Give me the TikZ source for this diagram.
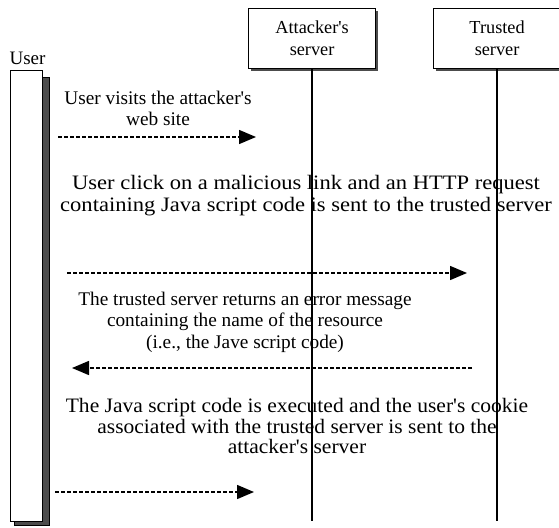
\documentclass[tikz,border=0pt]{standalone}
\usepackage{fontspec}
\usepackage{graphicx}
\setmainfont{Liberation Serif}[Ligatures=TeXOff]
\usetikzlibrary{arrows.meta}
\newcommand{\widetext}[2]{\scalebox{#1}[1]{\begin{tabular}{@{}c@{}}#2\end{tabular}}}
\tikzset{
  actorbox/.style={draw=black, line width=1.2pt, fill=white, minimum width=127pt, minimum height=60pt, align=center, inner sep=0pt,
    font=\fontsize{18.3}{22}\selectfont},
  lifeline/.style={line width=1.6pt},
  msg/.style={line width=1.5pt, dash pattern=on 4pt off 2pt, -{Triangle[length=17pt,width=14pt]}},
  msgtext/.style={align=center, inner sep=0pt},
}
\begin{document}
\begin{tikzpicture}[x=1pt,y=-1pt]
\useasboundingbox (0,0) rectangle (559,527);
% User activation bar
\fill[black!70] (14,77) rectangle (49,525);
\draw[line width=0.8pt] (14,77) rectangle (49,525);
\node[draw=black, line width=1.2pt, fill=white, minimum width=32pt, minimum height=451pt, inner sep=0pt, anchor=north west] (user) at (10,70) {};
\node[msgtext, font=\fontsize{19}{21}\selectfont, anchor=south] (userlbl) at (27.5,65) {User};
% Attacker's server
\fill[black!70] (251,11) rectangle (378,71);
\node[actorbox, anchor=north west] (att) at (248,8) {Attacker's\\server};
% Trusted server
\fill[black!70] (436,11) rectangle (563,71);
\node[actorbox, anchor=north west] (tru) at (433,8) {Trusted\\server};
% messages text
\node[msgtext, font=\fontsize{19.3}{21}\selectfont] (t1) at (158,108) {User visits the attacker's\\web site};
\node[msgtext, font=\fontsize{20.5}{22}\selectfont] (t2) at (306,196) {\widetext{1.1}{User click on a malicious link and an HTTP request\\containing Java script code is sent to the trusted server}};
\node[msgtext, font=\fontsize{19.3}{21.5}\selectfont] (t3) at (245,322) {The trusted server returns an error message\\containing the name of the resource\\(i.e., the Jave script code)};
\node[msgtext, font=\fontsize{20.5}{20.5}\selectfont] (t4) at (297,429) {\widetext{1.05}{The Java script code is executed and the user's cookie\\associated with the trusted server is sent to the\\attacker's server}};
% lifelines
\coordinate (attend) at (312,521);
\coordinate (truend) at (497,521);
\draw[lifeline] (att.south -| attend) -- (attend);
\draw[lifeline] (tru.south -| truend) -- (truend);
% arrows
\coordinate (a1s) at (58,137); \coordinate (a1e) at (256,137);
\coordinate (a2s) at (67,273); \coordinate (a2e) at (467,273);
\coordinate (a3s) at (472,368); \coordinate (a3e) at (72,368);
\coordinate (a4s) at (55,492); \coordinate (a4e) at (254,492);
\draw[msg] (a1s) -- (a1e);
\draw[msg] (a2s) -- (a2e);
\draw[msg] (a3s) -- (a3e);
\draw[msg] (a4s) -- (a4e);
\end{tikzpicture}
\end{document}
